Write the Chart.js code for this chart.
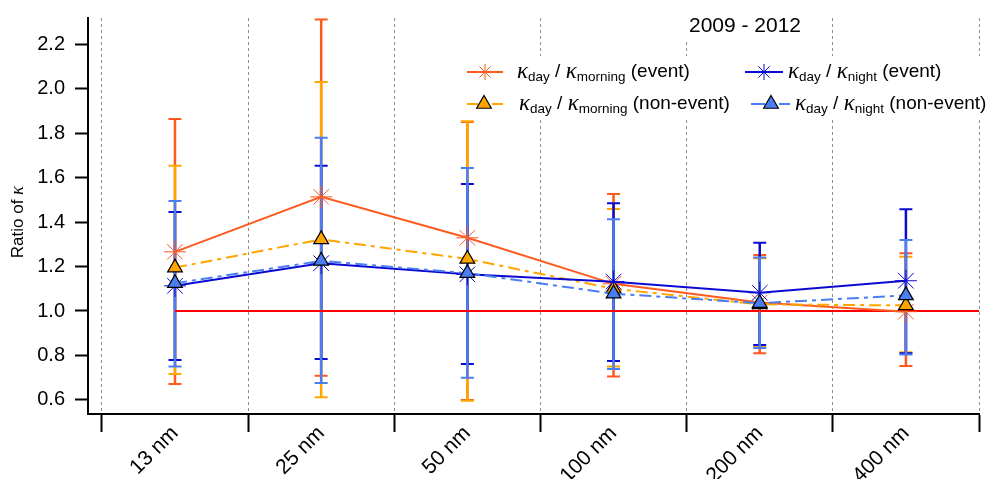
<!DOCTYPE html>
<html>
<head>
<meta charset="utf-8">
<title>Ratio of kappa 2009 - 2012</title>
<script src="https://cdn.jsdelivr.net/npm/chart.js@4.4.1/dist/chart.umd.min.js"></script>
<style>
  html, body { margin: 0; padding: 0; background: #fff; }
  #wrap { width: 991px; height: 479px; position: relative; }
</style>
</head>
<body>
<div id="wrap"><canvas id="kappaChart" width="991" height="479"></canvas></div>
<script>
// ---------------- data ----------------
const sizeLabels = ["13 nm", "25 nm", "50 nm", "100 nm", "200 nm", "400 nm"];
const yTicks = [0.6, 0.8, 1.0, 1.2, 1.4, 1.6, 1.8, 2.0, 2.2];

// kappa day / kappa morning, event days
const morningEvent   = [1.266, 1.513, 1.329, 1.122, 1.038, 0.997];
const morningEventHi = [1.863, 2.310, 1.850, 1.526, 1.252, 1.260];
const morningEventLo = [0.672, 0.709, 0.600, 0.705, 0.810, 0.753];

// kappa day / kappa morning, non-event days
const morningNonEvent   = [1.195, 1.322, 1.234, 1.100, 1.030, 1.025];
const morningNonEventHi = [1.653, 2.029, 1.853, 1.458, 1.237, 1.244];
const morningNonEventLo = [0.717, 0.612, 0.596, 0.750, 0.838, 0.815];

// kappa day / kappa night, event days
const nightEvent   = [1.113, 1.215, 1.165, 1.132, 1.082, 1.136];
const nightEventHi = [1.445, 1.653, 1.571, 1.484, 1.307, 1.457];
const nightEventLo = [0.780, 0.784, 0.762, 0.775, 0.847, 0.810];

// kappa day / kappa night, non-event days
const nightNonEvent   = [1.125, 1.225, 1.170, 1.078, 1.035, 1.070];
const nightNonEventHi = [1.494, 1.779, 1.643, 1.412, 1.240, 1.319];
const nightNonEventLo = [0.750, 0.676, 0.700, 0.739, 0.834, 0.805];

const refLevel = 1.0;
const periodTitle = "2009 - 2012";

// ---------------- scales ----------------
const xMin = -0.095;
const xMax = sizeLabels.length;
const yMin = 0.537;
const yMax = 2.317;

const C_MORN_EV = "#ff5a1e";
const C_MORN_NE = "#ffa500";
const C_NIGHT_EV = "#0a0ad2";
const C_NIGHT_NE = "#4a7ef2";

const SANS = '"Liberation Sans", Arial, sans-serif';
const SERIF = '"Liberation Serif", "Times New Roman", serif';

// category i sits in the middle of its band
const toPoints = vals => vals.map((v, i) => ({ x: i + 0.5, y: v }));

// band edges and band centres
const xTickValues = [];
for (let i = 0; i <= sizeLabels.length; i++) {
  xTickValues.push(i);
  if (i < sizeLabels.length) xTickValues.push(i + 0.5);
}
const isEdge = v => Math.abs(v - Math.round(v)) < 1e-6;

// ---------------- plugins ----------------
const errorBars = {
  id: "errorBars",
  beforeDatasetsDraw(chart) {
    const { ctx, scales: { x, y } } = chart;

    // white boxes behind title and legend (hide the dotted grid there)
    ctx.save();
    ctx.fillStyle = "#fff";
    ctx.fillRect(680, 17, 132, 25);
    ctx.fillRect(455, 56, 536, 64);
    ctx.restore();

    chart.data.datasets.forEach(ds => {
      if (!ds.hi) return;
      ctx.save();
      ctx.strokeStyle = ds.borderColor;
      ds.data.forEach((p, i) => {
        const px = x.getPixelForValue(p.x);
        const top = y.getPixelForValue(ds.hi[i]);
        const bot = y.getPixelForValue(ds.lo[i]);
        ctx.lineWidth = 2.5;
        ctx.beginPath();
        ctx.moveTo(px, top);
        ctx.lineTo(px, bot);
        ctx.stroke();
        ctx.lineWidth = 2;
        ctx.beginPath();
        ctx.moveTo(px - 6.5, top); ctx.lineTo(px + 6.5, top);
        ctx.moveTo(px - 6.5, bot); ctx.lineTo(px + 6.5, bot);
        ctx.stroke();
      });
      ctx.restore();
    });
  }
};

// text with kappa and subscripts
function richText(ctx, x, y, parts) {
  let cx = x;
  parts.forEach(p => {
    ctx.font = p.font;
    ctx.fillText(p.t, cx, y + (p.dy || 0));
    cx += ctx.measureText(p.t).width;
  });
}

function kappaRatio(sub2, tail) {
  const big = "19px " + SANS;
  const small = "13.5px " + SANS;
  const kap = "italic 23px " + SERIF;
  return [
    { t: "\u03ba", font: kap },
    { t: "day", font: small, dy: 5 },
    { t: " / ", font: big },
    { t: "\u03ba", font: kap },
    { t: sub2, font: small, dy: 5 },
    { t: " " + tail, font: big }
  ];
}

function legendSample(ctx, x1, x2, y, color, dash, style, px) {
  ctx.save();
  ctx.strokeStyle = color;
  ctx.lineWidth = 2;
  ctx.setLineDash(dash);
  ctx.beginPath();
  ctx.moveTo(x1, y);
  ctx.lineTo(x2, y);
  ctx.stroke();
  ctx.setLineDash([]);
  if (style === "star") {
    ctx.lineWidth = 1;
    Chart.helpers.drawPoint(ctx, { pointStyle: "star", radius: 8, borderWidth: 1, rotation: 0 }, px, y);
  } else {
    ctx.fillStyle = color;
    ctx.strokeStyle = "#000";
    ctx.lineWidth = 1.2;
    Chart.helpers.drawPoint(ctx, { pointStyle: "triangle", radius: 8.5, borderWidth: 1.2, rotation: 0 }, px, y);
  }
  ctx.restore();
}

const labelsPlugin = {
  id: "labelsPlugin",
  afterDatasetsDraw(chart) {
    const { ctx } = chart;
    ctx.save();
    ctx.fillStyle = "#000";
    ctx.textBaseline = "middle";

    // period title
    ctx.font = "21px " + SANS;
    ctx.textAlign = "center";
    ctx.fillText(periodTitle, 745, 26);
    ctx.textAlign = "left";

    // legend
    const r1 = 72, r2 = 104;
    legendSample(ctx, 467, 503, r1, C_MORN_EV, [], "star", 485);
    legendSample(ctx, 745, 783, r1, C_NIGHT_EV, [], "star", 764);
    legendSample(ctx, 467, 503, r2, C_MORN_NE, [11, 5, 4, 5], "tri", 484);
    legendSample(ctx, 751, 790, r2, C_NIGHT_NE, [14, 5, 4, 5], "tri", 771);
    ctx.fillStyle = "#000";
    richText(ctx, 517, r1, kappaRatio("morning", "(event)"));
    richText(ctx, 788, r1, kappaRatio("night", "(event)"));
    richText(ctx, 519, r2, kappaRatio("morning", "(non-event)"));
    richText(ctx, 795, r2, kappaRatio("night", "(non-event)"));

    // y axis title
    ctx.translate(18, 222);
    ctx.rotate(-Math.PI / 2);
    ctx.font = "17px " + SANS;
    const w1 = ctx.measureText("Ratio of ").width;
    ctx.font = "italic 19px " + SERIF;
    const w2 = ctx.measureText("\u03ba").width;
    richText(ctx, -(w1 + w2) / 2, 0, [
      { t: "Ratio of ", font: "17px " + SANS },
      { t: "\u03ba", font: "italic 19px " + SERIF }
    ]);
    ctx.restore();
  }
};

// ---------------- chart ----------------
const ctx = document.getElementById("kappaChart");

new Chart(ctx, {
  type: "line",
  data: {
    datasets: [
      {
        label: "day/morning (event)",
        data: toPoints(morningEvent),
        hi: morningEventHi, lo: morningEventLo,
        borderColor: C_MORN_EV,
        borderWidth: 2,
        pointStyle: "star",
        pointRadius: 11,
        pointBorderWidth: 1,
        pointBorderColor: C_MORN_EV,
        order: 4
      },
      {
        label: "day/morning (non-event)",
        data: toPoints(morningNonEvent),
        hi: morningNonEventHi, lo: morningNonEventLo,
        borderColor: C_MORN_NE,
        borderWidth: 2,
        borderDash: [12, 5, 4, 5],
        pointStyle: "triangle",
        pointRadius: 8.5,
        pointBackgroundColor: C_MORN_NE,
        pointBorderColor: "#000",
        pointBorderWidth: 1.2,
        order: 3
      },
      {
        label: "day/night (event)",
        data: toPoints(nightEvent),
        hi: nightEventHi, lo: nightEventLo,
        borderColor: C_NIGHT_EV,
        borderWidth: 2,
        pointStyle: "star",
        pointRadius: 11,
        pointBorderWidth: 1,
        pointBorderColor: C_NIGHT_EV,
        order: 2
      },
      {
        label: "day/night (non-event)",
        data: toPoints(nightNonEvent),
        hi: nightNonEventHi, lo: nightNonEventLo,
        borderColor: C_NIGHT_NE,
        borderWidth: 2,
        borderDash: [12, 5, 4, 5],
        pointStyle: "triangle",
        pointRadius: 8.5,
        pointBackgroundColor: C_NIGHT_NE,
        pointBorderColor: "#000",
        pointBorderWidth: 1.2,
        order: 1
      },
      {
        label: "reference",
        data: [{ x: 0.5, y: refLevel }, { x: xMax, y: refLevel }],
        borderColor: "#ff0000",
        borderWidth: 2,
        pointRadius: 0,
        order: 5
      }
    ]
  },
  options: {
    responsive: false,
    animation: false,
    devicePixelRatio: 1,
    layout: { padding: { top: 18, right: 4, left: 0, bottom: 0 } },
    plugins: {
      legend: { display: false },
      tooltip: { enabled: false }
    },
    scales: {
      x: {
        type: "linear",
        min: xMin,
        max: xMax,
        afterBuildTicks: s => { s.ticks = xTickValues.map(v => ({ value: v })); },
        afterFit: s => { s.height = 65; s.paddingLeft = 0; s.paddingRight = 0; },
        ticks: {
          autoSkip: false,
          minRotation: 45,
          maxRotation: 45,
          padding: -11,
          color: "#000",
          font: { family: SANS, size: 21 },
          callback: v => isEdge(v) ? "" : sizeLabels[Math.floor(v)]
        },
        grid: {
          color: c => (c.tick && isEdge(c.tick.value)) ? "#8c8c8c" : "rgba(0,0,0,0)",
          lineWidth: 1,
          tickColor: c => (c.tick && isEdge(c.tick.value)) ? "#000" : "rgba(0,0,0,0)",
          tickLength: 18,
          tickWidth: 2
        },
        border: { display: true, color: "#000", width: 2, dash: [3, 3] }
      },
      y: {
        min: yMin,
        max: yMax,
        afterBuildTicks: s => { s.ticks = yTicks.map(v => ({ value: v })); },
        afterFit: s => { s.width = 88; s.paddingTop = 0; s.paddingBottom = 0; },
        ticks: {
          autoSkip: false,
          padding: 10,
          color: "#000",
          font: { family: SANS, size: 20 },
          callback: v => v.toFixed(1)
        },
        grid: {
          drawOnChartArea: false,
          tickLength: 13,
          tickWidth: 2,
          tickColor: "#000"
        },
        border: { display: true, color: "#000", width: 2 }
      }
    }
  },
  plugins: [errorBars, labelsPlugin]
});
</script>
</body>
</html>
